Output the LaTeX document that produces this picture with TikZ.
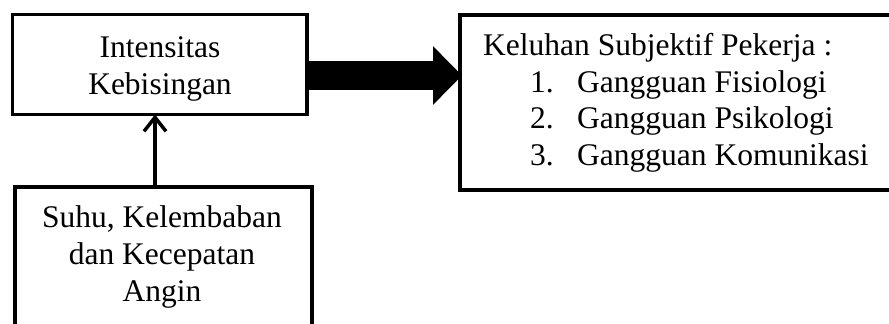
\documentclass[tikz,border=0pt]{standalone}
\usepackage{fontspec}
\setmainfont{Liberation Serif}
\usetikzlibrary{arrows.meta}
\begin{document}
\begin{tikzpicture}[x=1pt,y=-1pt,
  box/.style={draw=black,line width=3.5pt,rectangle,inner sep=0pt,outer sep=0pt},
  txt/.style={inner sep=0pt,anchor=base,font=\fontsize{31.5}{37}\selectfont},
  txtl/.style={txt,anchor=base west}]
\useasboundingbox (0,0) rectangle (889,324);
\clip (0,0) rectangle (889,324);
\fill[white] (0,0) rectangle (889,324);
% boxes
\node[box,minimum width=294.5pt,minimum height=100pt] (b1) at (159.75,64.5) {};
\node[box,minimum width=500pt,minimum height=175pt] (b2) at (710,102.5) {};
\node[box,minimum width=297pt,minimum height=183pt] (b3) at (163.5,278.5) {};
% texts box 1
\node[txt] (t11) at (160,57) {Intensitas};
\node[txt] (t12) at (160,94) {Kebisingan};
% texts box 2
\node[txtl] (t21) at (483,55) {Keluhan Subjektif Pekerja :};
\node[txtl] (n1) at (530,92) {1.};
\node[txtl] (g1) at (577,92) {Gangguan Fisiologi};
\node[txtl] (n2) at (530,128.5) {2.};
\node[txtl] (g2) at (577,128.5) {Gangguan Psikologi};
\node[txtl] (n3) at (530,165) {3.};
\node[txtl] (g3) at (577,165) {Gangguan Komunikasi};
% texts box 3
\node[txt] (t31) at (162,227) {Suhu, Kelembaban};
\node[txt] (t32) at (162,264) {dan Kecepatan};
\node[txt] (t33) at (162,301) {Angin};
% connectors
\coordinate (ax) at (155,0);
\draw[line width=3.5pt,-{Straight Barb[length=14pt,width=22pt,line width=3.5pt]}]
  (b3.north -| ax) -- (b1.south -| ax);
\coordinate (tip) at (462,75.5);
\draw[line width=29pt,-{Triangle[length=29pt,width=57pt]}]
  (b1.east |- tip) -- (tip);
\end{tikzpicture}
\end{document}
